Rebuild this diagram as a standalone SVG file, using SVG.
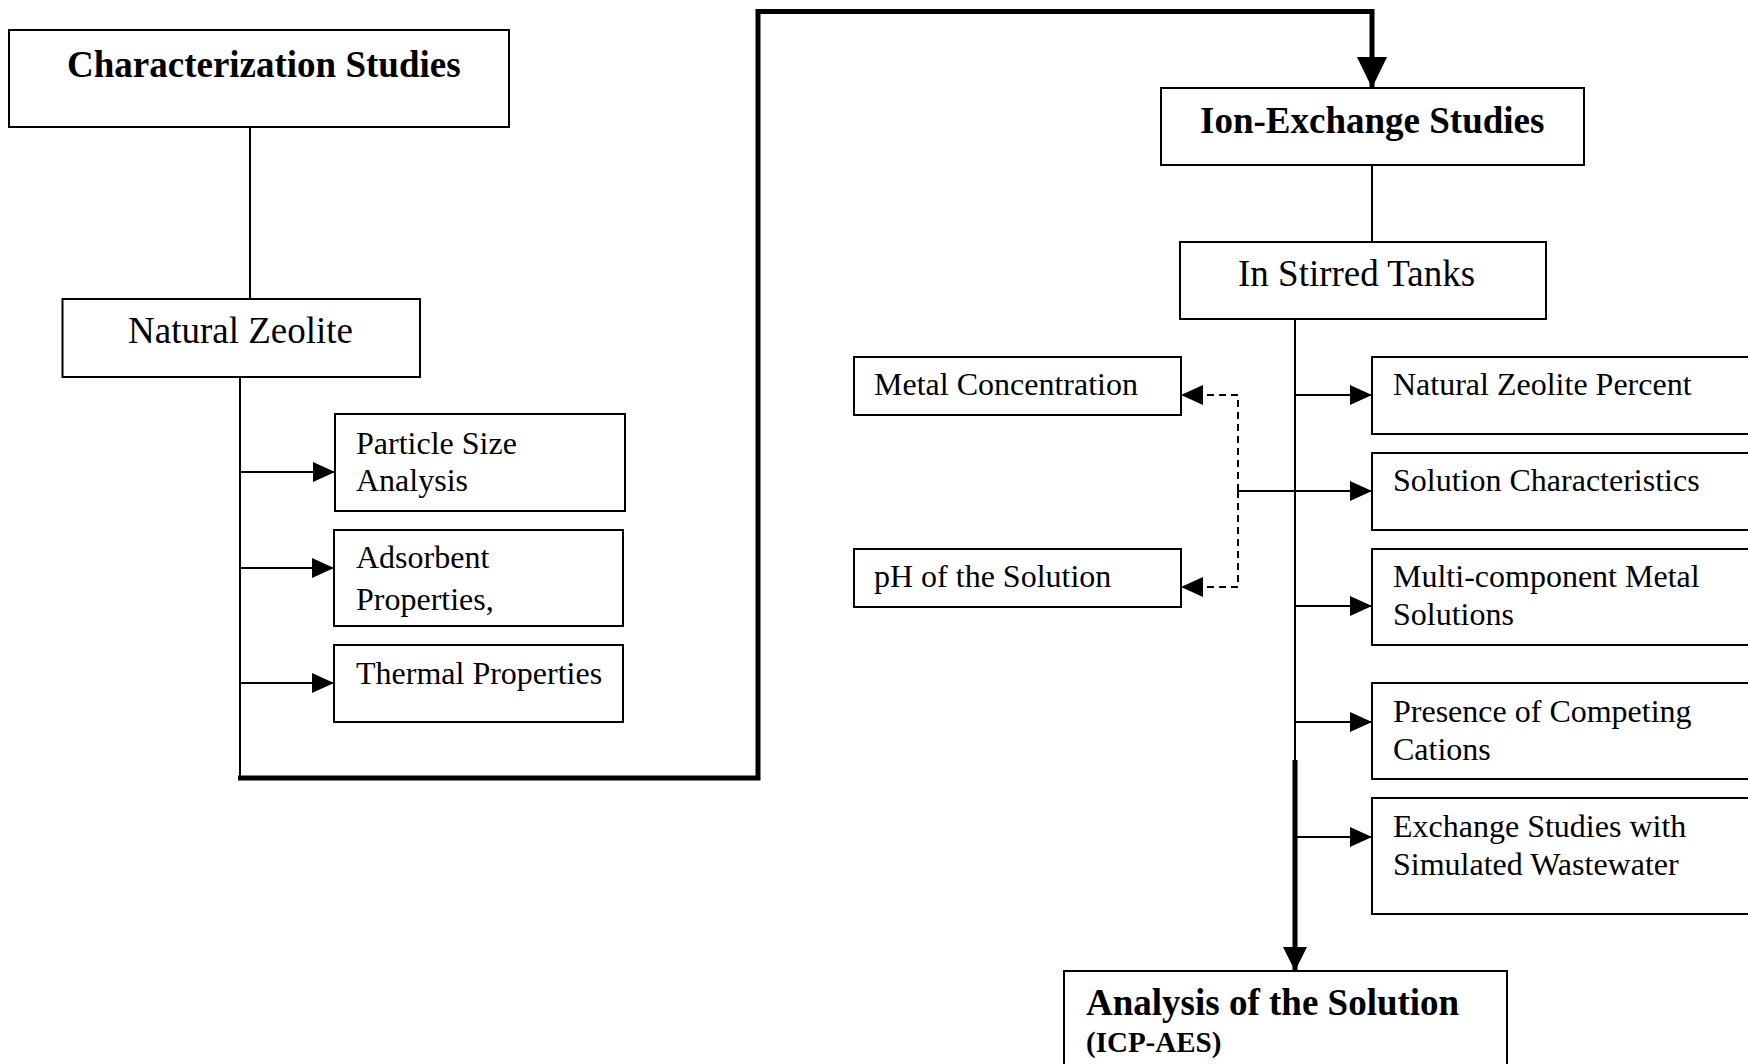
<svg xmlns="http://www.w3.org/2000/svg" width="1748" height="1064" viewBox="0 0 1748 1064">
<style>
.box{fill:#fff;stroke:#000;stroke-width:2}
.t{font-family:"Liberation Serif","Times New Roman",serif;fill:#000}
.big{font-size:37px}
.sm{font-size:32px}
.b{font-weight:bold}
.ln{stroke:#000;stroke-width:2;fill:none}
.thick{stroke:#000;stroke-width:5;fill:none}
.dash{stroke:#000;stroke-width:2;fill:none;stroke-dasharray:7 5}
</style>
<defs>
<marker id="ah" markerUnits="userSpaceOnUse" markerWidth="22" markerHeight="20" refX="22" refY="10" orient="auto"><path d="M0,0 L22,10 L0,20 Z" fill="#000"/></marker>
<marker id="ahb" markerUnits="userSpaceOnUse" markerWidth="31" markerHeight="30" refX="31" refY="15" orient="auto"><path d="M0,0 L31,15 L0,30 Z" fill="#000"/></marker>
<marker id="ahm" markerUnits="userSpaceOnUse" markerWidth="24" markerHeight="24" refX="24" refY="12" orient="auto"><path d="M0,0 L24,12 L0,24 Z" fill="#000"/></marker>
</defs>
<rect width="1748" height="1064" fill="#fff"/>
<g id="connectors">
<line class="ln" x1="250" y1="127" x2="250" y2="299"/>
<line class="ln" x1="240" y1="377" x2="240" y2="778"/>
<line class="ln" x1="240" y1="472" x2="335" y2="472" marker-end="url(#ah)"/>
<line class="ln" x1="240" y1="568" x2="334" y2="568" marker-end="url(#ah)"/>
<line class="ln" x1="240" y1="683" x2="334" y2="683" marker-end="url(#ah)"/>
<path class="thick" d="M238,778 H758 V11.5 H1372 V88" marker-end="url(#ahb)"/>
<line class="ln" x1="1372" y1="165" x2="1372" y2="242"/>
<line class="ln" x1="1295" y1="319" x2="1295" y2="762"/>
<line class="thick" x1="1295" y1="760" x2="1295" y2="971" marker-end="url(#ahm)"/>
<line class="ln" x1="1295" y1="395" x2="1372" y2="395" marker-end="url(#ah)"/>
<line class="ln" x1="1238" y1="491" x2="1372" y2="491" marker-end="url(#ah)"/>
<line class="ln" x1="1295" y1="606" x2="1372" y2="606" marker-end="url(#ah)"/>
<line class="ln" x1="1295" y1="722" x2="1372" y2="722" marker-end="url(#ah)"/>
<line class="ln" x1="1295" y1="837" x2="1372" y2="837" marker-end="url(#ah)"/>
<path class="dash" d="M1238,491 V395 H1181" marker-end="url(#ah)"/>
<path class="dash" d="M1238,491 V587 H1181" marker-end="url(#ah)"/>
</g>
<g id="characterization"><rect class="box" x="9" y="30" width="500" height="97"/><text class="t big b" x="67" y="77">Characterization Studies</text></g>
<g id="natural-zeolite"><rect class="box" x="62.5" y="299" width="357.5" height="78"/><text class="t big" x="128" y="343">Natural Zeolite</text></g>
<g id="particle-size"><rect class="box" x="335" y="414" width="290" height="97"/><text class="t sm" x="356" y="454">Particle Size</text><text class="t sm" x="356" y="491">Analysis</text></g>
<g id="adsorbent"><rect class="box" x="334" y="530" width="289" height="96"/><text class="t sm" x="356" y="568">Adsorbent</text><text class="t sm" x="356" y="610">Properties,</text></g>
<g id="thermal"><rect class="box" x="334" y="645" width="289" height="77"/><text class="t sm" x="356" y="684">Thermal Properties</text></g>
<g id="ion-exchange"><rect class="box" x="1161" y="88" width="423" height="77"/><text class="t big b" x="1200" y="133">Ion-Exchange Studies</text></g>
<g id="stirred-tanks"><rect class="box" x="1180" y="242" width="366" height="77"/><text class="t big" x="1238" y="286">In Stirred Tanks</text></g>
<g id="metal-concentration"><rect class="box" x="854" y="357" width="327" height="58"/><text class="t sm" x="874" y="395">Metal Concentration</text></g>
<g id="ph"><rect class="box" x="854" y="549" width="327" height="58"/><text class="t sm" x="874" y="587">pH of the Solution</text></g>
<g id="zeolite-percent"><rect class="box" x="1372" y="357" width="390" height="77"/><text class="t sm" x="1393" y="395">Natural Zeolite Percent</text></g>
<g id="solution-characteristics"><rect class="box" x="1372" y="453" width="390" height="77"/><text class="t sm" x="1393" y="491">Solution Characteristics</text></g>
<g id="multi-component"><rect class="box" x="1372" y="549" width="390" height="96"/><text class="t sm" x="1393" y="587">Multi-component Metal</text><text class="t sm" x="1393" y="625">Solutions</text></g>
<g id="competing-cations"><rect class="box" x="1372" y="683" width="390" height="96"/><text class="t sm" x="1393" y="722">Presence of Competing</text><text class="t sm" x="1393" y="760">Cations</text></g>
<g id="simulated-wastewater"><rect class="box" x="1372" y="798" width="390" height="116"/><text class="t sm" x="1393" y="837">Exchange Studies with</text><text class="t sm" x="1393" y="875">Simulated Wastewater</text></g>
<g id="analysis"><rect class="box" x="1064" y="971" width="443" height="110"/><text class="t big b" x="1086" y="1015">Analysis of the Solution</text><text class="t b" font-size="29" x="1086" y="1052">(ICP-AES)</text></g>
</svg>
